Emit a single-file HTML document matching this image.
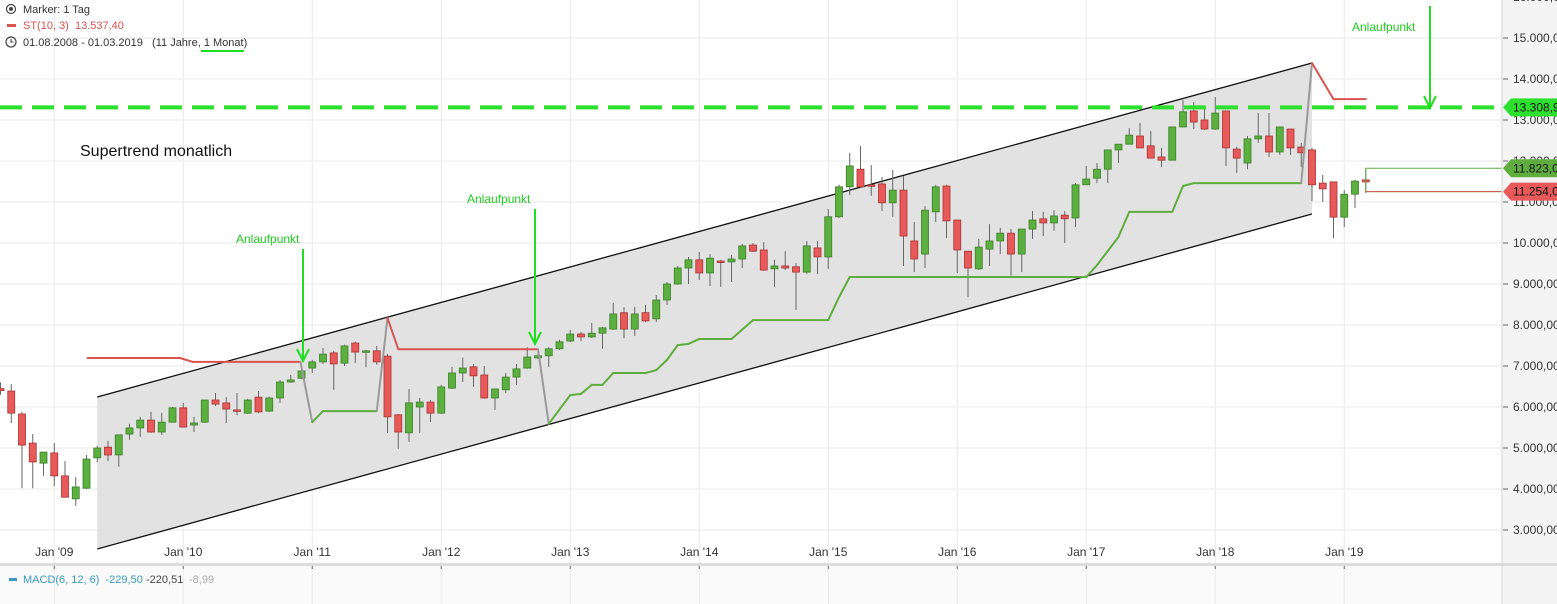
<!DOCTYPE html>
<html><head><meta charset="utf-8">
<style>
html,body{margin:0;padding:0;background:#fff;}
body{width:1557px;height:604px;overflow:hidden;font-family:"Liberation Sans",Arial,sans-serif;}
svg{display:block;}
text{white-space:pre;}
</style></head>
<body>
<svg id="chart" width="1557" height="604" viewBox="0 0 1557 604" xmlns="http://www.w3.org/2000/svg">
  <rect x="0" y="0" width="1557" height="604" fill="#fff"/>
  <rect x="1502" y="0" width="55" height="604" fill="#f4f4f4"/>
  <rect x="0" y="566" width="1502" height="38" fill="#fafafa"/>
  <g id="grid"></g>
  <g id="channel"></g>
  <g id="candles"></g>
  <g id="st"></g>
  <g id="overlay"></g>
  <g id="yaxis"></g>
  <g id="xaxis"></g>
  <rect x="0" y="563" width="1557" height="3" fill="#dcdcdc"/>
  <line x1="1502" y1="0" x2="1502" y2="604" stroke="#d6d6d6" stroke-width="1"/>
  <g font-size="11" fill="#333">
    <circle cx="11" cy="9" r="4.5" fill="none" stroke="#444" stroke-width="1.2"/>
    <circle cx="11" cy="9" r="2" fill="#444"/>
    <text x="23" y="13">Marker: 1 Tag</text>
    <rect x="7" y="24" width="9" height="3" fill="#d9534f"/>
    <text x="23" y="29" fill="#d9534f" xml:space="preserve">ST(10, 3)  13.537,40</text>
    <circle cx="11" cy="42" r="5" fill="none" stroke="#444" stroke-width="1.2"/>
    <path d="M11 39 V42 H13.5" fill="none" stroke="#444" stroke-width="1.1"/>
    <text x="23" y="46" xml:space="preserve">01.08.2008 - 01.03.2019   (11 Jahre, 1 Monat)</text>
    <rect x="201" y="50" width="43" height="2" fill="#22dd22"/>
  </g>
  <g font-size="11">
    <rect x="9" y="578" width="8" height="3" fill="#3a9ac0"/>
    <text x="23" y="583" fill="#3a9ac0" xml:space="preserve">MACD(6, 12, 6)  -229,50</text>
    <text x="146" y="583" fill="#444">-220,51</text>
    <text x="189" y="583" fill="#aaa">-8,99</text>
  </g>
</svg>
<script>
const opens=[6450,6390,5830,5120,4630,4880,4320,3760,4020,4760,5020,4830,5340,5490,5680,5390,5630,5980,5560,5630,6170,6100,5930,5850,6240,5900,6220,6610,6700,6950,7100,7320,7070,7560,7340,7370,7240,5810,5370,6000,6120,5850,6460,6830,6980,6780,6220,6420,6730,6950,7200,7250,7420,7610,7780,7710,7800,7900,8300,7900,8300,8150,8610,9000,9390,9590,9270,9560,9540,9610,9950,9830,9370,9440,9420,9290,9880,9660,10640,11370,11800,11420,11440,10980,11290,10050,9730,10760,11390,10560,9800,9370,9850,10050,10240,9730,10340,10590,10490,10680,10610,11420,11580,11800,12270,12410,12610,12370,12100,12020,12830,13220,13000,12780,13220,12290,11950,12540,12610,12220,12780,12340,12270,11460,11490,10630,11190,11540];
const highs=[6600,6560,5880,5340,4900,5120,4680,4290,4830,5050,5170,5320,5590,5760,5880,5860,6000,6100,5760,6170,6340,6240,6340,6200,6390,6250,6660,6780,6930,7150,7440,7370,7520,7590,7390,7490,7300,5830,6440,6220,6170,6540,6980,7200,7050,7000,6440,6830,7050,7460,7340,7460,7640,7880,7830,8050,7950,8540,8440,8440,8490,8730,9050,9440,9660,9780,9730,9590,9710,9980,10000,10020,9590,9800,9510,10050,10050,10830,11420,12200,12370,11900,11610,11780,11630,10510,10900,11420,11420,10560,9800,10100,10460,10370,10340,10340,10780,10760,10800,10780,11460,11880,11950,12270,12410,12800,12930,12730,12320,12830,13490,13440,13320,13560,13220,12350,12610,13170,13170,12830,12780,12440,12320,11660,11490,11290,11540,11800];
const lows=[6300,5610,4020,4020,4320,4070,3800,3590,4000,4660,4680,4540,5200,5270,5370,5320,5630,5510,5390,5610,6020,5610,5800,5830,5850,5880,6100,6590,6680,6830,7050,6420,7000,7070,6970,7030,5370,4980,5150,5370,5630,5830,6440,6610,6490,6200,5930,6340,6540,6930,7170,6980,7390,7580,7610,7680,7420,7880,7680,7730,8070,8070,8490,8980,9000,9100,8950,8930,9050,9390,9780,9320,8930,9340,8370,9250,9240,9370,10610,11170,11340,11150,10780,10640,9440,9290,9390,10510,10120,9270,8680,9340,9440,9730,9200,9290,10100,10170,10300,10000,10390,11420,11460,11460,11950,12410,12320,12070,11850,12020,12830,12780,12760,12760,11880,11710,11800,12440,12100,12150,12150,11850,11020,11000,10120,10390,10850,11220];
const closes=[6400,5850,5070,4660,4900,4320,3800,4050,4730,5000,4830,5320,5490,5680,5390,5630,5980,5510,5610,6170,6070,5950,5900,6170,5880,6220,6610,6660,6880,7100,7290,7050,7490,7340,7370,7100,5760,5390,6100,6120,5850,6490,6830,6950,6760,6220,6440,6730,6930,7220,7250,7420,7590,7780,7710,7800,7930,8270,7900,8270,8100,8610,9000,9390,9590,9270,9630,9540,9610,9930,9800,9340,9440,9390,9290,9930,9660,10640,11370,11880,11370,11390,10980,11290,10170,9610,10800,11370,10540,9830,9390,9900,10050,10240,9730,10340,10560,10490,10660,10590,11420,11560,11800,12270,12410,12630,12320,12070,12020,12830,13200,12950,12780,13170,12320,12070,12540,12610,12220,12830,12320,12200,11420,11320,10630,11190,11510,11490];
const stIdx=[8.1,16.7,17.9,27.9,29,30,35,36,37,50,51,53,54,55,56,57,60,61,62,63,64,65,68,70,77,78,79,101,102,104,105,109,110,111,121,122,124,127];
const stVal=[7195,7195,7100,7100,5630,5900,5900,8170,7410,7410,5590,6290,6320,6540,6540,6830,6830,6900,7150,7510,7540,7660,7660,8120,8120,8680,9170,9170,9460,10150,10760,10760,11390,11460,11460,14390,13510,13510];
const stSeg=['r','r','r','g','g','g','g','r','r','g','g','g','g','g','g','g','g','g','g','g','g','g','g','g','g','g','g','g','g','g','g','g','g','g','g','r','r'];
const yTicks=[3000,4000,5000,6000,7000,8000,9000,10000,11000,12000,13000,14000,15000,16000];
const yLabels=['3.000,00','4.000,00','5.000,00','6.000,00','7.000,00','8.000,00','9.000,00','10.000,00','11.000,00','12.000,00','13.000,00','14.000,00','15.000,00','16.000,00'];
const xTickIdx=[5,17,29,41,53,65,77,89,101,113,125];
const xLabels=["Jan '09","Jan '10","Jan '11","Jan '12","Jan '13","Jan '14","Jan '15","Jan '16","Jan '17","Jan '18","Jan '19"];
const channelIdx=[9,122];
const channelUpper=[6244,14390];
const channelLower=[2537,10707];
const resistance=13308.9;
const markerVals=[13308.9,11823,11254];
const markerLabels=['13.308,9','11.823,0','11.254,0'];

const NS='http://www.w3.org/2000/svg';
const X=i=>i*10.75+0.5;
const Y=v=>530-(v-3000)*0.041;
function mk(tag,attrs,parent){const e=document.createElementNS(NS,tag);for(const k in attrs)e.setAttribute(k,attrs[k]);parent.appendChild(e);return e;}

const grid=document.getElementById('grid');
yTicks.forEach(v=>{const l=mk('line',{x1:0,x2:1502,y1:Y(v),y2:Y(v),stroke:'#e9e9e9'},grid);

});
xTickIdx.forEach(i=>{const l=mk('line',{x1:X(i),x2:X(i),y1:0,y2:604,stroke:'#e9e9e9'},grid);

});

const ch=document.getElementById('channel');
const poly=mk('polygon',{points:`${X(channelIdx[0])},${Y(channelUpper[0])} ${X(channelIdx[1])},${Y(channelUpper[1])} ${X(channelIdx[1])},${Y(channelLower[1])} ${X(channelIdx[0])},${Y(channelLower[0])}`,fill:'#e2e2e2'},ch);


const up=mk('line',{x1:X(channelIdx[0]),y1:Y(channelUpper[0]),x2:X(channelIdx[1]),y2:Y(channelUpper[1]),stroke:'#111','stroke-width':1.3},ch);


const lo=mk('line',{x1:X(channelIdx[0]),y1:Y(channelLower[0]),x2:X(channelIdx[1]),y2:Y(channelLower[1]),stroke:'#111','stroke-width':1.3},ch);



const cg=document.getElementById('candles');
for(let i=0;i<opens.length;i++){
  const o=opens[i],c=closes[i],h=highs[i],l=lows[i];
  const g=c>=o;const x=X(i);
  const grp=mk('g',{},cg);
  
  
  mk('line',{x1:x,x2:x,y1:Y(h),y2:Y(l),stroke:'#666','stroke-width':1},grp);
  const top=Y(Math.max(o,c)),bot=Y(Math.min(o,c));
  mk('rect',{x:x-3.5,y:top,width:7,height:Math.max(1.5,bot-top),fill:g?'#5cb040':'#e85a5a',stroke:g?'#3d7f2a':'#a83232','stroke-width':0.8},grp);
}

const st=document.getElementById('st');
const colors={r:'#d9534f',g:'#5fad3e',t:'#9a9a9a'};
for(let k=0;k<stIdx.length-1;k++){
  let key=stSeg[k];
  const isJump=Math.abs(stVal[k+1]-stVal[k])>900;
  const col=isJump?colors.t:colors[key];
  const s=mk('line',{x1:X(stIdx[k]),y1:Y(stVal[k]),x2:X(stIdx[k+1]),y2:Y(stVal[k+1]),stroke:col,'stroke-width':2,'stroke-linecap':'round'},st);
  
  
}

const ov=document.getElementById('overlay');
const dl=mk('line',{x1:0,x2:1502,y1:Y(resistance),y2:Y(resistance),stroke:'#2ee02e','stroke-width':4,'stroke-dasharray':'22 10'},ov);


const gl=mk('polyline',{points:`1502,${Y(markerVals[1])} ${X(127)},${Y(markerVals[1])} ${X(127)},${Y(markerVals[2])} 1502,${Y(markerVals[2])}`,fill:'none',stroke:'#5fad3e','stroke-width':1},ov);


mk('line',{x1:X(127),x2:1502,y1:Y(markerVals[2]),y2:Y(markerVals[2]),stroke:'#d9534f','stroke-width':1},ov);

const t=mk('text',{x:80,y:156,'font-size':16,fill:'#111'},ov);t.textContent='Supertrend monatlich';


const annots=[[236,243,303,249,361],[467,203,535,209,344],[1352,31,1430,6,108]];
annots.forEach(a=>{
  const tx=mk('text',{x:a[0],y:a[1],'font-size':12,fill:'#22cc22'},ov);tx.textContent='Anlaufpunkt';
  
  
  const ar=mk('path',{d:`M${a[2]} ${a[3]} V${a[4]} M${a[2]-6} ${a[4]-12} L${a[2]} ${a[4]} L${a[2]+6} ${a[4]-12}`,fill:'none',stroke:'#22dd22','stroke-width':2},ov);
  
  
});

const ya=document.getElementById('yaxis');
yTicks.forEach((v,k)=>{
  mk('line',{x1:1503,x2:1508,y1:Y(v),y2:Y(v),stroke:'#666'},ya);
  const tx=mk('text',{x:1513,y:Y(v)+4,'font-size':12,fill:'#333'},ya);tx.textContent=yLabels[k];
  
  
});
const mcol=['#2ee02e','#5fad3e','#e85a5a'];
[2,1,0].forEach(k=>{
  const y=Y(markerVals[k]);
  const p=mk('path',{d:`M1503 ${y} L1511 ${y-9} H1557 V${y+9} H1511 Z`,fill:mcol[k]},ya);
  
  
  const tx=mk('text',{x:1513,y:y+4,'font-size':12,fill:'#111'},ya);tx.textContent=markerLabels[k];
  
  
});

const xa=document.getElementById('xaxis');
xTickIdx.forEach((i,k)=>{
  const tx=mk('text',{x:X(i),y:556,'font-size':12,fill:'#333','text-anchor':'middle'},xa);tx.textContent=xLabels[k];
  
  
  mk('line',{x1:X(i),x2:X(i),y1:563,y2:569,stroke:'#666'},xa);
});
</script>
</body></html>
